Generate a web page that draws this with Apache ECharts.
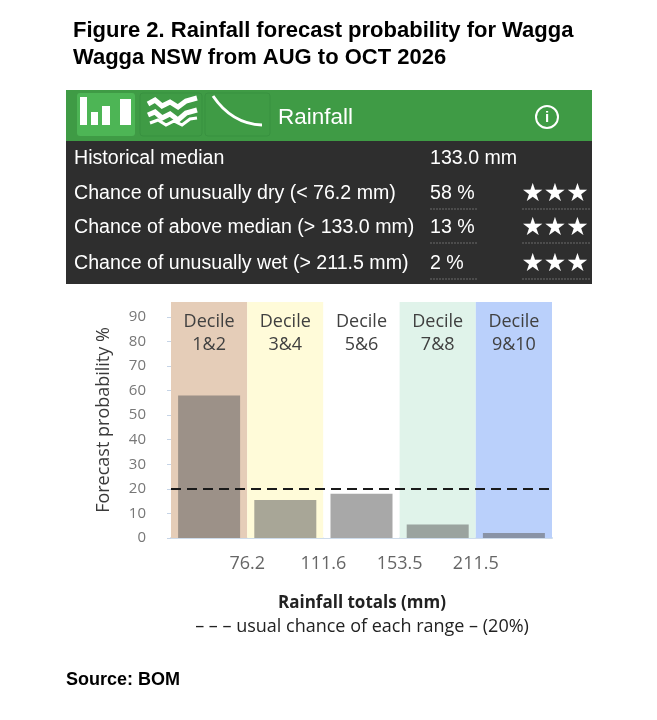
<!DOCTYPE html>
<html>
<head>
<meta charset="utf-8">
<script src="https://cdn.jsdelivr.net/npm/echarts@6/dist/echarts.min.js"></script>
<style>
	html, body { margin: 0; padding: 0; background: #fff; }
	#chart { width: 657px; height: 720px; }
</style>
</head>
<body>
<div id="chart"></div>
<script>
// 数据
var categories = ['Decile\n1&2', 'Decile\n3&4', 'Decile\n5&6', 'Decile\n7&8', 'Decile\n9&10'];
var probability = [58, 15.5, 18, 5.5, 2];
var boundaryLabels = ['', '76.2', '111.6', '153.5', '211.5', ''];
var yTicks = [0, 10, 20, 30, 40, 50, 60, 70, 80, 90];
var usualChance = 20;
var yTop = 96;

var rowLabels = ['Historical median', 'Chance of unusually dry (< 76.2 mm)', 'Chance of above median (> 133.0 mm)', 'Chance of unusually wet (> 211.5 mm)'];
var rowValues = ['133.0 mm', '58 %', '13 %', '2 %'];
var rowStars = ['', '★★★', '★★★', '★★★'];

var chartFont = 'Open Sans';
var tableFont = 'Liberation Sans';

function panel() {
	var els = [];
	// 背景
	els.push({ type: 'rect', shape: { x: 66, y: 90, width: 526, height: 194 }, style: { fill: '#2e2e2e' } });
	els.push({ type: 'rect', shape: { x: 66, y: 90, width: 526, height: 51 }, style: { fill: '#3f9b45' } });
	// 按钮
	els.push({ type: 'rect', shape: { x: 77, y: 93, width: 58, height: 43, r: 3 }, style: { fill: '#4db555' } });
	els.push({ type: 'rect', shape: { x: 140, y: 93, width: 62, height: 43, r: 3 }, style: { fill: 'none', stroke: '#389140', lineWidth: 1 } });
	els.push({ type: 'rect', shape: { x: 205, y: 93, width: 65, height: 43, r: 3 }, style: { fill: 'none', stroke: '#389140', lineWidth: 1 } });
	// 柱状图标
	els.push({ type: 'rect', shape: { x: 80, y: 97, width: 7, height: 28 }, style: { fill: '#fff' } });
	els.push({ type: 'rect', shape: { x: 91, y: 112, width: 7, height: 13 }, style: { fill: '#fff' } });
	els.push({ type: 'rect', shape: { x: 102, y: 106, width: 8, height: 19 }, style: { fill: '#fff' } });
	els.push({ type: 'rect', shape: { x: 120, y: 99, width: 11, height: 26 }, style: { fill: '#fff' } });
	// 波浪图标
	els.push({ type: 'polyline', shape: { points: [[148, 104], [155, 100], [162, 106], [170, 102], [178, 107], [186, 101], [197, 98]] }, style: { stroke: '#fff', lineWidth: 5, fill: 'none' } });
	els.push({ type: 'polyline', shape: { points: [[148, 115], [155, 112], [162, 118], [170, 114], [178, 120], [186, 113], [197, 110]] }, style: { stroke: '#fff', lineWidth: 5, fill: 'none' } });
	els.push({ type: 'polyline', shape: { points: [[150, 123], [158, 120], [166, 125], [174, 121], [182, 125], [190, 119], [197, 118]] }, style: { stroke: '#fff', lineWidth: 3, fill: 'none' } });
	// 曲线图标
	els.push({ type: 'bezierCurve', shape: { x1: 213, y1: 96, cpx1: 232, cpy1: 124, x2: 262, y2: 125 }, style: { stroke: '#fff', lineWidth: 3, fill: 'none' } });
	// 标题
	els.push({ type: 'text', x: 278, y: 118, style: { text: 'Rainfall', fill: '#fff', font: '22.5px ' + tableFont, verticalAlign: 'middle' } });
	// 信息图标
	els.push({ type: 'circle', shape: { cx: 547, cy: 117, r: 11 }, style: { fill: 'none', stroke: '#fff', lineWidth: 2 } });
	els.push({ type: 'text', x: 547, y: 118, style: { text: 'i', fill: '#fff', font: 'bold 15px ' + tableFont, align: 'center', verticalAlign: 'middle' } });
	// 表格行
	var rowY = [159, 194, 228, 264];
	for (var i = 0; i < rowLabels.length; i++) {
		els.push({ type: 'text', x: 74, y: rowY[i], style: { text: rowLabels[i], fill: '#fff', font: '19.6px ' + tableFont, verticalAlign: 'middle' } });
		els.push({ type: 'text', x: 430, y: rowY[i], style: { text: rowValues[i], fill: '#fff', font: '19.6px ' + tableFont, verticalAlign: 'middle' } });
		if (rowStars[i]) {
			els.push({ type: 'text', x: 555, y: rowY[i], style: { text: rowStars[i], fill: '#fff', font: 'bold 25px DejaVu Sans', align: 'center', verticalAlign: 'middle' } });
			els.push({ type: 'line', shape: { x1: 430, y1: rowY[i] + 15, x2: 478, y2: rowY[i] + 15 }, style: { stroke: '#6a6a6a', lineWidth: 1, lineDash: [2, 1] } });
			els.push({ type: 'line', shape: { x1: 522, y1: rowY[i] + 15, x2: 591, y2: rowY[i] + 15 }, style: { stroke: '#6a6a6a', lineWidth: 1, lineDash: [2, 1] } });
		}
	}
	// 图注
	els.push({ type: 'text', x: 362, y: 603, style: { text: 'Rainfall totals (mm)', fill: '#222', font: 'bold 17px ' + chartFont, align: 'center', verticalAlign: 'middle' } });
	els.push({ type: 'text', x: 362, y: 627, style: { text: '– – – usual chance of each range – (20%)', fill: '#222', font: '18px ' + chartFont, align: 'center', verticalAlign: 'middle' } });
	els.push({ type: 'text', x: 66, y: 680, style: { text: 'Source: BOM', fill: '#000', font: 'bold 18px ' + tableFont, verticalAlign: 'middle' } });
	return els;
}

function bar() {
	var myChart = echarts.init(document.getElementById('chart'));
	var bandColors = ['#e5cdb8', '#fffbd9', '#ffffff', '#e0f3ea', '#bad0fb'];
	var option = {
		animation: false,
		title: {
			text: 'Figure 2. Rainfall forecast probability for Wagga\nWagga NSW from AUG to OCT 2026',
			left: 73,
			top: 17,
			padding: 0,
			textStyle: {
				fontFamily: tableFont,
				fontSize: 22,
				fontWeight: 'bold',
				color: '#000',
				lineHeight: 27
			}
		},
		grid: { left: 171, right: 105, top: 302, bottom: 182 },
		xAxis: [{
			type: 'category',
			data: categories,
			axisLabel: { show: false },
			axisTick: { show: false },
			axisLine: { lineStyle: { color: '#cddbeb', width: 2 } }
		}, {
			type: 'category',
			data: categories,
			show: false
		}, {
			type: 'value',
			min: 0,
			max: boundaryLabels.length - 1,
			interval: 1,
			position: 'bottom',
			axisLine: { show: false },
			axisTick: { show: false },
			splitLine: { show: false },
			axisLabel: {
				margin: 17,
				color: '#666',
				fontFamily: chartFont,
				fontSize: 18,
				formatter: function(v) { return boundaryLabels[v] || ''; }
			}
		}],
		yAxis: [{
			type: 'value',
			min: 0,
			max: yTop,
			interval: 10,
			name: 'Forecast probability %',
			nameLocation: 'middle',
			nameGap: 58,
			nameTextStyle: { color: '#3a3a3a', fontFamily: chartFont, fontSize: 18 },
			axisLine: { show: false },
			axisTick: { show: true, length: 4, lineStyle: { color: '#c6d4e6' }, customValues: yTicks },
			splitLine: { show: false },
			axisLabel: { margin: 25, color: '#777', fontFamily: chartFont, fontSize: 15, customValues: yTicks }
		}],
		series: [{
			name: 'band',
			type: 'bar',
			xAxisIndex: 0,
			barWidth: '100%',
			silent: true,
			data: categories.map(function() { return yTop; }),
			itemStyle: {
				color: function(params) { return bandColors[params.dataIndex]; }
			},
			label: {
				show: true,
				position: 'insideTop',
				distance: 8,
				formatter: '{b}',
				color: '#404040',
				fontFamily: chartFont,
				fontSize: 18,
				lineHeight: 23
			}
		}, {
			name: 'Forecast probability',
			type: 'bar',
			xAxisIndex: 1,
			barWidth: 62,
			data: probability,
			itemStyle: { color: 'rgba(96,96,96,0.55)' },
			markLine: {
				silent: true,
				symbol: 'none',
				label: { show: false },
				lineStyle: { color: '#1a1a1a', type: [10, 6], width: 2 },
				data: [{ yAxis: usualChance }]
			}
		}],
		graphic: { elements: panel() }
	};
	myChart.setOption(option);
}
bar();
</script>
</body>
</html>
